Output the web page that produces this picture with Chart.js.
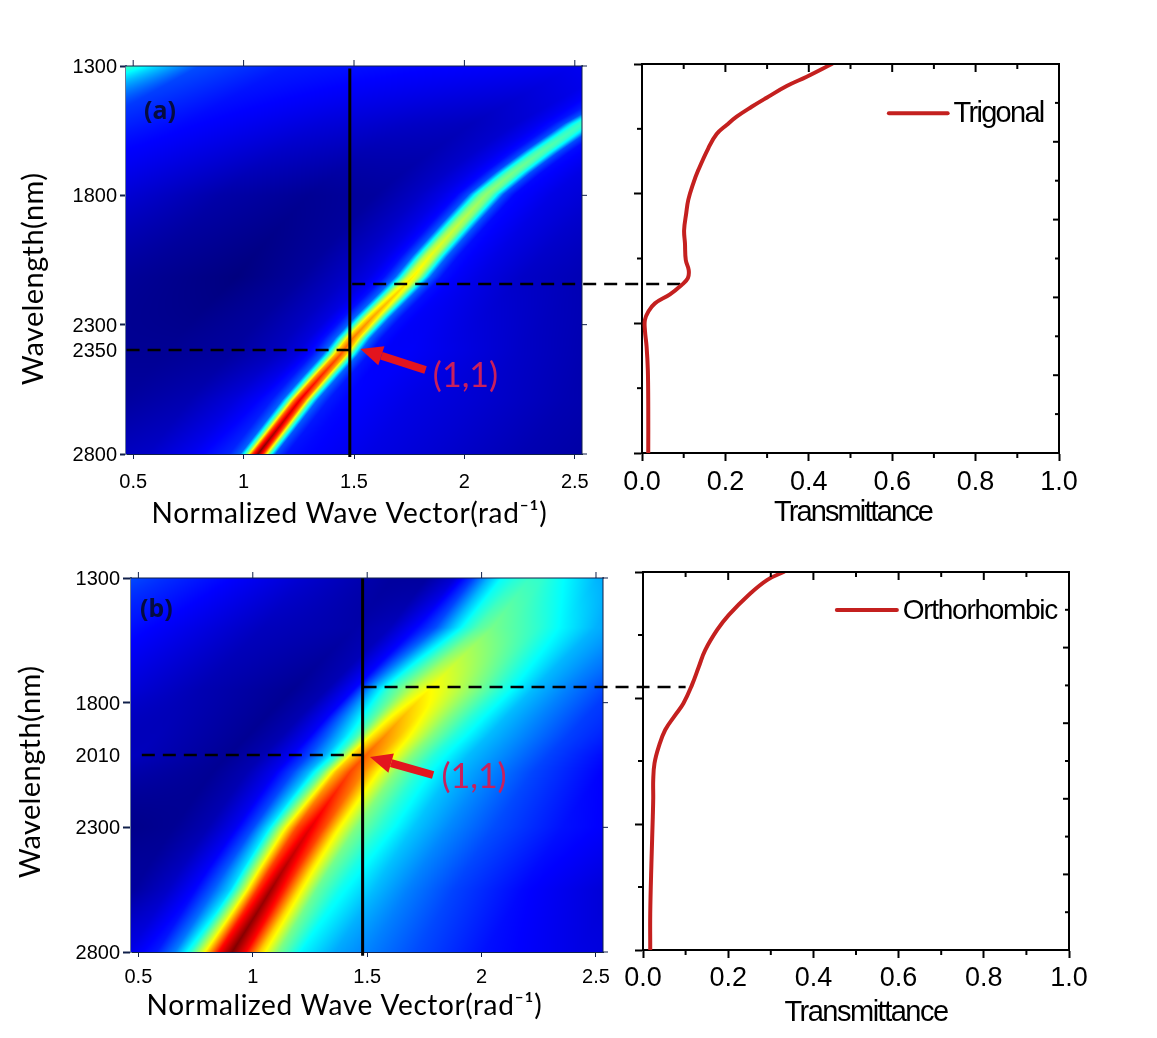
<!DOCTYPE html>
<html><head><meta charset="utf-8">
<style>html,body{margin:0;padding:0;background:#fff}canvas{position:absolute;left:0;top:0}</style>
<script src="https://cdn.jsdelivr.net/npm/chart.js@4"></script>
</head><body>
<canvas id="heatA" width="1157" height="1038"></canvas>
<canvas id="heatB" width="1157" height="1038"></canvas>
<canvas id="lineA" width="1157" height="1038"></canvas>
<canvas id="lineB" width="1157" height="1038"></canvas>
<script>
// ---------- tick labels ----------
const kTicks=[0.5,1,1.5,2,2.5];
const kTickLabels=['0.5','1','1.5','2','2.5'];
const wlTicksA=[1300,1800,2300,2398,2800];
const wlTickLabelsA=['1300','1800','2300','2350','2800'];
const wlTicksB=[1300,1800,2010,2300,2800];
const wlTickLabelsB=['1300','1800','2010','2300','2800'];
const tTicks=[0,0.2,0.4,0.6,0.8,1];
const tMinor=[0.1,0.3,0.5,0.7,0.9];
const wlMajor=[1300,1800,2300,2800];
const wlMinor=[1550,2050,2550];
const wlRightLong=[1600,1900,2200,2500];
const wlRightShort=[1450,1750,2050,2350,2650];

// ---------- transmittance curves ----------
const trigonalT=[.455,.395,.347,.299,.263,.227,.203,.179,.159,.135,.123,.111,.106,.101,.103,.105,.112,.110,.095,.067,.031,.015,.007,.007,.011,.014,.015,.015];
const trigonalWl=[1300,1349,1385,1430,1465,1503,1535,1570,1625,1709,1760,1824,1876,1940,1991,2056,2094,2126,2152,2188,2223,2255,2287,2326,2390,2480,2621,2800];
const orthoT=[.330,.291,.248,.201,.174,.146,.131,.115,.095,.076,.052,.037,.027,.024,.024,.023,.020,.017,.017];
const orthoWl=[1300,1332,1391,1471,1530,1610,1676,1748,1821,1867,1927,1993,2059,2125,2198,2271,2443,2654,2800];

// ---------- heat map (a): ridge position and profiles across the ridge ----------
const ridgeWlA=[1300,1524,1564,1635,1712,1795,1906,2035,2115,2192,2269,2352,2417,2495,2591,2707,2800];
const ridgeKA=[3.0,2.53,2.463,2.342,2.22,2.10,1.98,1.844,1.767,1.677,1.586,1.495,1.437,1.354,1.255,1.15,1.065];
const offsetsA=[-2.6,-2.5,-2.4,-2.2,-1.8,-1.2,-.8,-.5,-.3,-.2,-.13,-.08,-.05,-.025,0,.025,.05,.08,.13,.2,.3,.5,.8,1.2,1.8];
const rowWlA=[1300,1524,1800,2115,2398,2591,2800];
const rowsA=[
[.5,.42,.34,.2,.15,.13,.12,.11,.12,.14,.17,.22,.3,.38,.42,.38,.3,.22,.16,.14,.1,.08,.05,.03,.02],
[.2,.2,.19,.17,.13,.09,.07,.06,.08,.11,.14,.2,.34,.41,.43,.41,.34,.2,.14,.12,.1,.08,.05,.03,.02],
[.1,.1,.1,.1,.1,.04,.02,.03,.07,.1,.13,.2,.38,.48,.52,.48,.38,.2,.13,.12,.1,.08,.05,.03,.02],
[.05,.05,.05,.05,.05,.02,0,.03,.07,.1,.14,.22,.42,.57,.64,.57,.42,.22,.14,.12,.1,.07,.05,.03,.02],
[.02,.02,.02,.02,.02,.02,.02,.03,.06,.09,.14,.22,.45,.68,.78,.68,.45,.22,.14,.12,.12,.1,.07,.04,.02],
[.03,.03,.03,.03,.03,.03,.03,.05,.09,.12,.15,.22,.47,.76,.9,.76,.47,.22,.15,.13,.12,.1,.08,.05,.02],
[.05,.05,.05,.05,.05,.05,.05,.07,.11,.14,.16,.22,.5,.82,1,.82,.5,.2,.14,.13,.12,.1,.08,.05,.02]];

// ---------- heat map (b) ----------
const ridgeWlB=[1300,1497,1630,1750,1856,1936,1990,2077,2190,2323,2471,2644,2800];
const ridgeKB=[2.21,2.05,1.9,1.77,1.656,1.575,1.515,1.425,1.337,1.236,1.132,1.017,.91];
const offsetsB=[-2.4,-1.6,-1,-.6,-.45,-.33,-.25,-.18,-.12,-.06,0,.06,.12,.2,.3,.45,.6,.8,1.1,1.5,2.2];
const rowWlB=[1300,1500,1750,2010,2300,2550,2800];
const rowsB=[
[.32,.17,.08,.03,.03,.08,.18,.3,.38,.41,.43,.42,.39,.35,.3,.26,.22,.2,.15,.1,.1],
[.14,.14,.06,.04,.06,.13,.2,.31,.4,.46,.49,.47,.45,.42,.37,.3,.26,.22,.15,.12,.1],
[.1,.12,.05,.02,.05,.13,.3,.43,.5,.58,.63,.6,.56,.5,.42,.31,.25,.18,.15,.12,.1],
[.03,.03,.06,.02,.05,.11,.19,.29,.43,.66,.78,.72,.63,.51,.41,.31,.26,.19,.12,.08,.08],
[0,0,0,.02,.05,.11,.2,.36,.58,.8,.9,.8,.64,.5,.42,.32,.26,.2,.14,.1,.1],
[.03,.03,.03,.03,.07,.13,.22,.33,.55,.82,.97,.84,.66,.48,.39,.31,.25,.19,.13,.08,.08],
[.1,.1,.1,.08,.1,.15,.25,.42,.62,.87,1,.88,.68,.5,.37,.29,.25,.2,.14,.1,.05]];

// ---------- marker values ----------
const lineKA=1.481, lineKB=1.48;
const peakWlA=2398, peakWlB=2010;
const upperWlA=2148, upperWlB=1756;

const W=1157,H=1038;
const RED='#c4201f', ARROW='#e3141e', PINK='#c9205c', NAVY='#050c40';
const SANS='"Liberation Sans"', HUM='Lato';

function lerpTable(xs,ys,x){
  if(x<=xs[0])return ys[0];
  for(let i=1;i<xs.length;i++){if(x<=xs[i]){const t=(x-xs[i-1])/(xs[i]-xs[i-1]);return ys[i-1]+(ys[i]-ys[i-1])*t;}}
  return ys[ys.length-1];
}
function jet(v){
  const s=[[0,0,0,.5],[.125,0,0,1],[.375,0,1,1],[.625,1,1,0],[.875,1,0,0],[1,.5,0,0]];
  v=Math.max(0,Math.min(1,v));
  for(let i=1;i<s.length;i++){if(v<=s[i][0]){const t=(v-s[i-1][0])/(s[i][0]-s[i-1][0]);
    return [1,2,3].map(c=>255*(s[i-1][c]+(s[i][c]-s[i-1][c])*t));}}
  return [127,0,0];
}
const heatPlugin={id:'heat',beforeDatasetsDraw(chart,a,o){
  const {left,top,width,height}=chart.chartArea,sx=chart.scales.x,sy=chart.scales.y;
  const w=Math.round(width),h=Math.round(height);
  const off=document.createElement('canvas');off.width=w;off.height=h;
  const c=off.getContext('2d'),img=c.createImageData(w,h);
  for(let j=0;j<h;j++){
    const wl=sy.getValueForPixel(top+j+.5),rk=lerpTable(o.ridgeWl,o.ridgeK,wl);
    let r=1;while(r<o.rowWl.length-1&&wl>o.rowWl[r])r++;
    const t=Math.max(0,Math.min(1,(wl-o.rowWl[r-1])/(o.rowWl[r]-o.rowWl[r-1])));
    for(let i=0;i<w;i++){
      const d=sx.getValueForPixel(left+i+.5)-rk;
      const v=lerpTable(o.offsets,o.rows[r-1],d)*(1-t)+lerpTable(o.offsets,o.rows[r],d)*t;
      const [R,G,B]=jet(v),p=(j*w+i)*4;
      img.data[p]=R;img.data[p+1]=G;img.data[p+2]=B;img.data[p+3]=255;
    }
  }
  c.putImageData(img,0,0);chart.ctx.drawImage(off,left,top);
}};
const framePlugin={id:'frame',afterDraw(chart,a,o){
  const ctx=chart.ctx,{left,right,top,bottom}=chart.chartArea,sx=chart.scales.x,sy=chart.scales.y;
  ctx.save();ctx.lineCap='butt';
  (o.edges||[]).forEach(e=>{ctx.strokeStyle=e.color;ctx.lineWidth=e.width;ctx.beginPath();
    if(e.side==='top'){ctx.moveTo(left-1,top);ctx.lineTo(right+1,top);}
    if(e.side==='right'){ctx.moveTo(right,top-1);ctx.lineTo(right,bottom+1);}
    if(e.side==='left'){ctx.moveTo(left,top);ctx.lineTo(left,bottom);}
    ctx.stroke();});
  (o.ticks||[]).forEach(t=>{ctx.strokeStyle=t.color;ctx.lineWidth=t.width;
    t.at.forEach(v=>{ctx.beginPath();
      if(t.side==='top'){const x=sx.getPixelForValue(v);ctx.moveTo(x,top);ctx.lineTo(x,top+t.len);}
      if(t.side==='bottom'){const x=sx.getPixelForValue(v);ctx.moveTo(x,bottom);ctx.lineTo(x,bottom+t.len);}
      if(t.side==='left'){const y=sy.getPixelForValue(v);ctx.moveTo(left,y);ctx.lineTo(left+t.len,y);}
      if(t.side==='right'){const y=sy.getPixelForValue(v);ctx.moveTo(right,y);ctx.lineTo(right+t.len,y);}
      ctx.stroke();});});
  // arrow
  if(o.arrow){
    const ax=sx.getPixelForValue(o.arrow.fromK),ay=sy.getPixelForValue(o.arrow.fromWl),
          bx=sx.getPixelForValue(o.arrow.toK),by=sy.getPixelForValue(o.arrow.toWl);
    const ang=Math.atan2(by-ay,bx-ax),hl=o.arrow.head,hw=o.arrow.headW;
    const nx=bx-Math.cos(ang)*hl,ny=by-Math.sin(ang)*hl;
    ctx.strokeStyle=ARROW;ctx.fillStyle=ARROW;ctx.lineWidth=o.arrow.width;
    ctx.beginPath();ctx.moveTo(ax,ay);ctx.lineTo(nx,ny);ctx.stroke();
    ctx.beginPath();ctx.moveTo(bx,by);
    ctx.lineTo(nx+Math.sin(ang)*hw/2,ny-Math.cos(ang)*hw/2);
    ctx.lineTo(nx-Math.sin(ang)*hw/2,ny+Math.cos(ang)*hw/2);ctx.closePath();ctx.fill();
  }
  (o.notes||[]).forEach(n=>{ctx.font=n.font;ctx.fillStyle=n.color;ctx.textAlign='center';ctx.textBaseline='middle';
    ctx.letterSpacing=n.spacing||'0px';
    ctx.fillText(n.text,sx.getPixelForValue(n.k),sy.getPixelForValue(n.wl));ctx.letterSpacing='0px';});
  // legend
  if(o.legend){const g=o.legend,y=sy.getPixelForValue(g.wl);
    ctx.strokeStyle=RED;ctx.lineWidth=4;ctx.lineCap='round';ctx.beginPath();
    ctx.moveTo(sx.getPixelForValue(g.t0),y);ctx.lineTo(sx.getPixelForValue(g.t1),y);ctx.stroke();
    ctx.font=g.font;ctx.fillStyle='#000';ctx.textAlign='left';ctx.textBaseline='middle';ctx.letterSpacing=g.spacing;
    ctx.fillText(g.text,sx.getPixelForValue(g.t2),y+1);ctx.letterSpacing='0px';}
  ctx.restore();
}};
function placeTitle(cx,cy,spacing){return scale=>{
  if(scale.__placed)return;scale.__placed=true;
  const orig=scale.drawTitle;
  scale.drawTitle=function(){
    const lh=this.options.title.font.size*1.2,hz=this.isHorizontal(),c=this.ctx;
    const dx=hz?cx-(this.left+this.right)/2:cx-(this.left+lh/2);
    const dy=hz?cy-(this.bottom-lh/2):cy-(this.top+this.bottom)/2;
    c.save();c.translate(dx,dy);c.letterSpacing=spacing;orig.call(this);c.restore();
  };
};}
function nudgeLabels(scale,dy){
  if(scale.__nudged)return;scale.__nudged=true;
  const orig=scale.drawLabels;
  scale.drawLabels=function(area){const c=this.ctx;c.save();c.translate(0,dy);orig.call(this,area);c.restore();};
}
function base(box,axisH){return {
  responsive:false,animation:false,events:[],
  layout:{autoPadding:false,padding:{left:box.left-60,right:W-box.right,top:box.top,bottom:H-box.bottom-axisH}}
};}
function xAxis(o){return {
  type:'linear',position:'bottom',min:o.min,max:o.max,
  afterBuildTicks:s=>{s.ticks=o.ticks.map(v=>({value:v}));},
  afterFit:s=>{s.height=o.height;placeTitle(o.tx,o.ty,o.spacing)(s);},
  ticks:{autoSkip:false,maxRotation:0,padding:o.pad,color:'#000',font:{family:SANS,size:o.size},callback:o.label},
  grid:{drawOnChartArea:false,tickLength:o.tick,tickColor:o.color,tickWidth:o.tw},
  border:{color:o.color,width:o.tw},
  title:{display:true,text:o.title,color:'#000',padding:0,font:{family:o.family,size:o.tsize}}
};}
function yAxis(o){return {
  type:'linear',position:'left',reverse:true,min:1300,max:2800,
  afterBuildTicks:s=>{s.ticks=o.ticks.map(v=>({value:v}));},
  afterFit:s=>{s.width=60;nudgeLabels(s,1.5);if(o.title)placeTitle(o.tx,o.ty,o.spacing)(s);},
  ticks:{autoSkip:false,padding:o.pad,color:'#000',font:{family:SANS,size:o.size},callback:o.label},
  grid:{drawOnChartArea:false,tickLength:o.tick,tickColor:o.tickColor,tickWidth:o.tw},
  border:{color:o.color,width:o.tw},
  title:o.title?{display:true,text:o.title,color:'#000',padding:0,font:{family:HUM,size:29}}:{display:false}
};}
function lineDs(data,color,width,dash,clip){return {data,borderColor:color,borderWidth:width,borderDash:dash||[],pointRadius:0,showLine:true,clip:clip===undefined?false:clip,tension:0,fill:false};}

function heatChart(id,c){
  const opts=base(c.box,70);
  opts.scales={
    x:xAxis({min:c.kMin,max:c.kMax,ticks:kTicks,label:v=>kTickLabels[kTicks.indexOf(v)],height:70,pad:c.xpad,size:20,tick:c.xTick,color:'#10204a',tw:1,
      title:'Normalized Wave Vector(rad\u207B\u00B9)',family:HUM,tsize:c.tsize,tx:c.tx,ty:c.ty,spacing:c.tspace}),
    y:yAxis({ticks:c.wlTicks,label:v=>c.wlLabels[c.wlTicks.indexOf(v)],pad:c.ypad,size:20,tick:c.yTick,
      tickColor:ctx=>wlMajor.includes(ctx.tick&&ctx.tick.value)?'#10204a':'rgba(0,0,0,0)',color:'#68789a',tw:2,
      title:'Wavelength(nm)',tx:c.wx,ty:c.wy,spacing:c.wspace})
  };
  opts.plugins={legend:{display:false},tooltip:{enabled:false},
    heat:{ridgeWl:c.ridgeWl,ridgeK:c.ridgeK,offsets:c.offsets,rowWl:c.rowWl,rows:c.rows},
    frame:{edges:[{side:'top',color:'#10204a',width:1},{side:'right',color:'#10204a',width:1}],
      ticks:[{side:'top',at:kTicks,len:-6,color:'#10204a',width:1},{side:'right',at:wlMajor,len:5,color:'#10204a',width:1}],
      arrow:c.arrow,notes:c.notes}};
  return new Chart(document.getElementById(id),{type:'scatter',plugins:[heatPlugin,framePlugin],
    data:{datasets:[
      lineDs(c.vLine,'#000',3),
      lineDs(c.dash,'#000',2.5,[13,8])
    ]},options:opts});
}
function lineChart(id,c){
  const opts=base(c.box,80);
  opts.scales={
    x:xAxis({min:0,max:1,ticks:tTicks,label:v=>v.toFixed(1),height:80,pad:c.xpad,size:27,tick:8,color:'#000',tw:2,
      title:'Transmittance',family:SANS,tsize:c.tsize,tx:c.tx,ty:c.ty,spacing:c.tspace}),
    y:yAxis({ticks:wlMajor,label:()=>'',pad:0,size:12,tick:8,tickColor:'#000',color:'#000',tw:2})
  };
  opts.plugins={legend:{display:false},tooltip:{enabled:false},
    frame:{edges:[{side:'top',color:'#000',width:2},{side:'right',color:'#000',width:2}],
      ticks:[
        {side:'top',at:tTicks,len:8,color:'#000',width:2},{side:'top',at:tMinor,len:5,color:'#000',width:2},
        {side:'bottom',at:tMinor,len:5,color:'#000',width:2},
        {side:'left',at:wlMinor,len:-5,color:'#000',width:2},
        {side:'right',at:wlRightLong,len:-6,color:'#000',width:2},{side:'right',at:wlRightShort,len:-4,color:'#000',width:2}],
      legend:c.legend}};
  return new Chart(document.getElementById(id),{type:'scatter',plugins:[framePlugin],
    data:{datasets:[
      lineDs(c.T.map((t,i)=>({x:t,y:c.wl[i]})),RED,4,null,true),
      lineDs(c.dash,'#000',2.5,[13,8])
    ].map((d,i)=>i===0?Object.assign(d,{tension:.4,borderCapStyle:'round'}):d)},options:opts});
}
heatChart('heatA',{box:{left:126,right:582,top:66,bottom:454},kMin:.4674,kMax:2.5326,
  wlTicks:wlTicksA,wlLabels:wlTickLabelsA,xTick:5,yTick:6,ypad:3,xpad:11,
  tsize:28,tx:349.5,ty:514,tspace:'0.6px',wx:34,wy:279,wspace:'0.4px',
  ridgeWl:ridgeWlA,ridgeK:ridgeKA,offsets:offsetsA,rowWl:rowWlA,rows:rowsA,
  vLine:[{x:lineKA,y:1310},{x:lineKA,y:2812}],
  dash:[{x:.47,y:peakWlA},{x:lineKA,y:peakWlA}],
  arrow:{fromK:1.824,fromWl:2475,toK:1.529,toWl:2394,width:8,head:22,headW:20},
  notes:[{text:'(1,1)',k:2.005,wl:2498,font:'34px '+HUM,color:PINK},{text:'(a)',k:.621,wl:1478,font:'bold 25px "Noto Sans"',color:NAVY}]});
heatChart('heatB',{box:{left:131,right:603,top:578,bottom:952},kMin:.4677,kMax:2.5306,
  wlTicks:wlTicksB,wlLabels:wlTickLabelsB,xTick:5,yTick:8,ypad:3,xpad:8,
  tsize:28,tx:344.5,ty:1006,tspace:'0.6px',wx:31,wy:772,wspace:'0.4px',
  ridgeWl:ridgeWlB,ridgeK:ridgeKB,offsets:offsetsB,rowWl:rowWlB,rows:rowsB,
  vLine:[{x:lineKB,y:1300},{x:lineKB,y:2815}],
  dash:[{x:.515,y:peakWlB},{x:lineKB,y:peakWlB}],
  arrow:{fromK:1.788,fromWl:2090,toK:1.512,toWl:2018,width:8,head:22,headW:20},
  notes:[{text:'(1,1)',k:1.967,wl:2098,font:'34px '+HUM,color:PINK},{text:'(b)',k:.579,wl:1428,font:'bold 25px "Noto Sans"',color:NAVY}]});
lineChart('lineA',{box:{left:642,right:1059,top:64,bottom:453},T:trigonalT,wl:trigonalWl,xpad:5,
  tsize:29,tx:853,ty:513,tspace:'-1.9px',
  dash:[{x:-.695,y:upperWlA},{x:.105,y:upperWlA}],
  legend:{wl:1490,t0:.592,t1:.733,t2:.747,text:'Trigonal',font:'29px '+SANS,spacing:'-1.7px'}});
lineChart('lineB',{box:{left:643,right:1069,top:572,bottom:950},T:orthoT,wl:orthoWl,xpad:4,
  tsize:29,tx:866,ty:1013,tspace:'-1.5px',
  dash:[{x:-.656,y:upperWlB},{x:.10,y:upperWlB}],
  legend:{wl:1451,t0:.455,t1:.596,t2:.610,text:'Orthorhombic',font:'28px '+SANS,spacing:'-1.3px'}});
</script>
</body></html>
